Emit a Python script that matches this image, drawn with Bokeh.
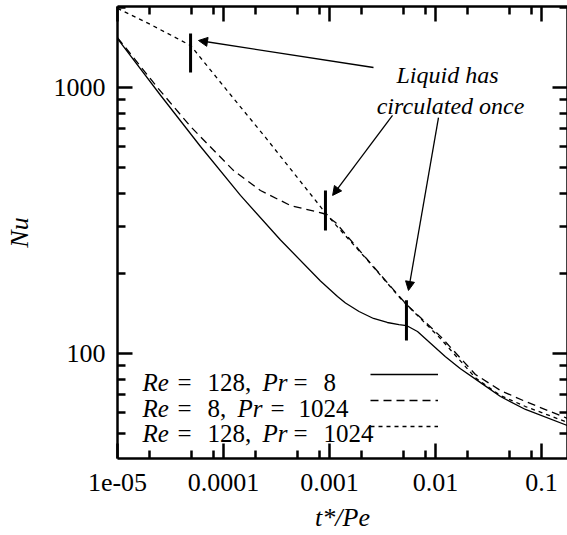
from bokeh.plotting import figure
from bokeh.models import (LogAxis, FixedTicker, CustomJSTickFormatter, Legend,
                          LegendItem, Label, Arrow, NormalHead, Range1d)
from bokeh.embed import file_html
from bokeh.resources import INLINE

# Nusselt number against dimensionless time t*/Pe
t_re128_pr8 = [1e-5, 2.546e-5, 6.07e-5, 1.446e-4, 3.45e-4, 8.22e-4, 1.19e-3, 1.415e-3,
               1.9e-3, 2.6e-3, 3.51e-3, 4.52e-3, 5.32e-3, 6.76e-3, 8.97e-3, 1.242e-2,
               1.72e-2, 2.66e-2, 4.1e-2, 7.06e-2, 0.176]
nu_re128_pr8 = [1528, 935, 600, 393, 267, 187.4, 163.8, 154.8, 143.9, 135.4, 130.8,
                128.5, 127.4, 121, 109.3, 97.3, 87.7, 77.7, 68.9, 61.6, 53.6]

t_re8_pr1024 = [1e-5, 2.38e-5, 4.89e-5, 1.24e-4, 2.23e-4, 4.28e-4, 8.77e-4, 1.14e-3,
                2.2e-3, 4.68e-3, 5.32e-3, 7.21e-3, 1.114e-2, 2.38e-2, 4.1e-2,
                7.06e-2, 0.176]
nu_re8_pr1024 = [1540, 1000, 713, 488, 410, 360, 336, 311, 229, 162, 153, 136.5,
                 116, 83.4, 72.6, 66.0, 57.0]

t_re128_pr1024 = [1e-5, 2.05e-5, 4.89e-5, 1.1e-4, 2.49e-4, 8.77e-4, 1.14e-3, 2.2e-3,
                  4.68e-3, 5.32e-3, 7.21e-3, 1.114e-2, 2.38e-2, 4.1e-2, 7.06e-2, 0.176]
nu_re128_pr1024 = [1983, 1725, 1439, 966, 649, 345, 305, 228, 161, 152.8, 135.5,
                   113.8, 81, 69.5, 63.2, 55.1]

# one full circulation of the liquid for each case
mark_t = [4.89e-5, 9.16e-4, 5.32e-3]
mark_lo = [1139, 290, 112]
mark_hi = [1595, 410, 158.5]

x_major = [1e-5, 1e-4, 1e-3, 1e-2, 1e-1]
x_labels = ["1e-05", "0.0001", "0.001", "0.01", "0.1"]
x_minor = [2e-5, 5e-5, 8e-5, 2e-4, 5e-4, 8e-4, 2e-3, 5e-3, 8e-3, 2e-2, 5e-2, 8e-2]
y_major = [100, 1000]
y_labels = ["100", "1000"]
y_minor = [50, 60, 70, 80, 90, 200, 300, 400, 500, 600, 700, 800, 900, 2000]

SERIF = "'Liberation Serif', 'Times New Roman', serif"

p = figure(width=567, height=535, x_axis_type="log", y_axis_type="log",
           x_range=Range1d(1e-5, 0.1759), y_range=Range1d(40.3, 2016),
           output_backend="svg", toolbar_location=None,
           min_border_left=117, min_border_right=0, min_border_top=6,
           min_border_bottom=77)
p.xgrid.visible = False
p.ygrid.visible = False
p.outline_line_color = None
p.background_fill_color = "white"
p.border_fill_color = "white"

fmt_code = """
const i = vals.findIndex(v => Math.abs(Math.log10(v) - Math.log10(tick)) < 1e-6);
return i >= 0 ? labs[i] : "";
"""
blank_fmt = CustomJSTickFormatter(code="return '';")


def style_axis(ax, labelled):
    ax.major_tick_in = 15
    ax.major_tick_out = 0
    ax.minor_tick_in = 8
    ax.minor_tick_out = 0
    ax.axis_line_width = 2.5
    ax.major_tick_line_width = 2.5
    ax.minor_tick_line_width = 2.5
    ax.axis_line_color = "black"
    ax.major_tick_line_color = "black"
    ax.minor_tick_line_color = "black"
    if labelled:
        ax.major_label_text_font = SERIF
        ax.major_label_text_font_size = "26px"
        ax.major_label_text_color = "black"
        ax.axis_label_text_font = SERIF
        ax.axis_label_text_font_size = "26px"
        ax.axis_label_text_font_style = "italic"
        ax.axis_label_text_color = "black"
    else:
        ax.major_label_standoff = 0
        ax.major_label_text_font_size = "0px"


xax = p.xaxis[0]
xax.ticker = FixedTicker(ticks=x_major, minor_ticks=x_minor)
xax.formatter = CustomJSTickFormatter(args=dict(vals=x_major, labs=x_labels), code=fmt_code)
xax.axis_label = "t*/Pe"
style_axis(xax, True)
xax.major_label_standoff = 15
xax.axis_label_standoff = 9

yax = p.yaxis[0]
yax.ticker = FixedTicker(ticks=y_major, minor_ticks=y_minor)
yax.formatter = CustomJSTickFormatter(args=dict(vals=y_major, labs=y_labels), code=fmt_code)
yax.axis_label = "Nu"
style_axis(yax, True)
yax.major_label_standoff = 12
yax.axis_label_standoff = 17

top = LogAxis(ticker=FixedTicker(ticks=x_major, minor_ticks=x_minor), formatter=blank_fmt)
style_axis(top, False)
p.add_layout(top, "above")
right = LogAxis(ticker=FixedTicker(ticks=y_major, minor_ticks=y_minor), formatter=blank_fmt)
style_axis(right, False)
p.add_layout(right, "right")

r1 = p.line(t_re128_pr8, nu_re128_pr8, line_color="black", line_width=1.3)
r2 = p.line(t_re8_pr1024, nu_re8_pr1024, line_color="black", line_width=1.3,
            line_dash="8 5")
r3 = p.line(t_re128_pr1024, nu_re128_pr1024, line_color="black", line_width=1.3,
            line_dash="4 4")

p.segment(x0=mark_t, y0=mark_lo, x1=mark_t, y1=mark_hi, line_color="black",
          line_width=3)

# legend: line samples on the right, mixed italic/upright labels on the left
legend = Legend(items=[LegendItem(label=" ", renderers=[r]) for r in (r1, r2, r3)],
                location=(253, 22), glyph_width=68, glyph_height=20,
                label_width=0, label_height=20, label_standoff=0,
                label_text_font_size="1px", spacing=6, padding=0, margin=0,
                border_line_color=None, background_fill_alpha=0)
p.add_layout(legend)

rows = [
    [("Re", 25, "italic"), ("=", 60, "normal"), ("128,", 90, "normal"),
     ("Pr", 145, "italic"), ("=", 176, "normal"), ("8", 206, "normal")],
    [("Re", 25, "italic"), ("=", 60, "normal"), ("8,", 90, "normal"),
     ("Pr", 120, "italic"), ("=", 153, "normal"), ("1024", 181, "normal")],
    [("Re", 25, "italic"), ("=", 60, "normal"), ("128,", 90, "normal"),
     ("Pr", 145, "italic"), ("=", 176, "normal"), ("1024", 206, "normal")],
]
row_base = [76, 50, 25]
for row, yb in zip(rows, row_base):
    for txt, xo, style in row:
        p.add_layout(Label(x=xo, y=yb, x_units="screen", y_units="screen", text=txt,
                           text_font=SERIF, text_font_size="25px",
                           text_font_style=style, text_baseline="alphabetic",
                           text_color="black"))

# annotation
for txt, tx, ty in (("Liquid has", 0.01297, 1110), ("circulated once", 0.01387, 855)):
    p.add_layout(Label(x=tx, y=ty, text=txt, text_font=SERIF, text_font_size="24px",
                       text_font_style="italic", text_align="center",
                       text_baseline="alphabetic", text_color="black"))

arrows = [((2.60e-3, 1189), (5.81e-5, 1502)),
          ((3.93e-3, 785), (1.07e-3, 393)),
          ((0.01067, 771), (5.56e-3, 172.6))]
for (xs, ys), (xe, ye) in arrows:
    p.add_layout(Arrow(x_start=xs, y_start=ys, x_end=xe, y_end=ye,
                       line_color="black", line_width=1.3,
                       end=NormalHead(size=9, fill_color="black",
                                      line_color="black", line_width=1)))

open("out.html", "w").write(file_html(p, INLINE))
